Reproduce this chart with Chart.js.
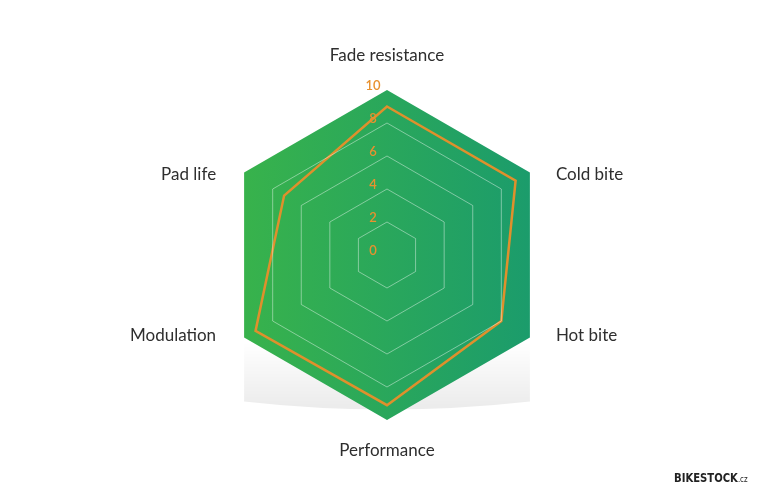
<!DOCTYPE html>
<html>
<head>
<meta charset="utf-8">
<script src="https://cdn.jsdelivr.net/npm/chart.js@4.4.1/dist/chart.umd.min.js"></script>
<style>
  html, body { margin: 0; padding: 0; background: #fff; }
  #wrap { position: relative; width: 768px; height: 500px; }
  #mark {
    position: absolute; right: 20px; bottom: 15px;
    font: bold 13px "Liberation Sans Narrow", "DejaVu Sans Condensed", sans-serif;
    color: #222; transform: scaleX(0.86); transform-origin: right center;
  }
  #mark small { font-size: 9px; font-weight: normal; }
</style>
</head>
<body>
<div id="wrap">
  <canvas id="radar" width="768" height="500"></canvas>
  <div id="mark">BIKESTOCK<small>.cz</small></div>
</div>
<script>
// Данные графика
const categories = ['Fade resistance', 'Cold bite', 'Hot bite', 'Performance', 'Modulation', 'Pad life'];
const ratings = [9, 9, 8, 9.1, 9.2, 7.2];
const tickValues = [0, 2, 4, 6, 8, 10];
const scaleMax = 10;
const fullScale = categories.map(() => scaleMax);

// Тень под шестиугольником
const shadowPlugin = {
  id: 'hexShadow',
  beforeDatasetsDraw(chart) {
    const r = chart.scales.r;
    const c = chart.ctx;
    const right = r.getPointPosition(2, r.drawingArea);
    const left = r.getPointPosition(4, r.drawingArea);
    const top = left.y;
    const g = c.createLinearGradient(0, top + 5, 0, top + 68);
    g.addColorStop(0, 'rgba(0,0,0,0)');
    g.addColorStop(1, 'rgba(0,0,0,0.075)');
    c.save();
    c.beginPath();
    c.moveTo(left.x, top);
    c.lineTo(left.x, top + 64);
    c.quadraticCurveTo(r.xCenter, top + 80, right.x, top + 64);
    c.lineTo(right.x, top);
    c.closePath();
    c.fillStyle = g;
    c.fill();
    c.restore();
  }
};

// Подписи осей и шкалы
const labelsPlugin = {
  id: 'hexLabels',
  afterDraw(chart) {
    const r = chart.scales.r;
    const c = chart.ctx;
    c.save();
    c.textBaseline = 'middle';
    c.font = '17px Lato';
    c.fillStyle = '#2e2e2e';
    categories.forEach((name, i) => {
      const p = r.getPointPosition(i, r.drawingArea);
      if (Math.abs(p.x - r.xCenter) < 1) {
        c.textAlign = 'center';
        c.fillText(name, p.x, p.y < r.yCenter ? p.y - 34 : p.y + 31);
      } else if (p.x > r.xCenter) {
        c.textAlign = 'left';
        c.fillText(name, p.x + 26, p.y + (p.y < r.yCenter ? 2 : -2));
      } else {
        c.textAlign = 'right';
        c.fillText(name, p.x - 28, p.y + (p.y < r.yCenter ? 2 : -2));
      }
    });
    c.font = '600 13px Lato';
    c.fillStyle = '#e8912f';
    c.textAlign = 'center';
    tickValues.forEach(v => {
      const d = r.getDistanceFromCenterForValue(v);
      c.fillText(String(v), r.xCenter - 14, r.yCenter - d - 4);
    });
    c.restore();
  }
};

function hexGradient(context) {
  const chart = context.chart;
  const r = chart.scales.r;
  if (!chart.chartArea || !r) return '#2aa85a';
  const g = chart.ctx.createLinearGradient(r.xCenter - r.drawingArea, 0, r.xCenter + r.drawingArea, 0);
  g.addColorStop(0, '#3ab449');
  g.addColorStop(1, '#199a6e');
  return g;
}

new Chart(document.getElementById('radar'), {
  type: 'radar',
  data: {
    labels: categories,
    datasets: [
      {
        label: 'Rating',
        data: ratings,
        borderColor: '#df902c',
        borderWidth: 2.5,
        borderJoinStyle: 'miter',
        fill: false,
        pointRadius: 0,
        tension: 0,
        order: 0
      },
      {
        label: 'Scale',
        data: fullScale,
        backgroundColor: hexGradient,
        borderWidth: 0,
        fill: true,
        pointRadius: 0,
        order: 1
      }
    ]
  },
  options: {
    responsive: false,
    animation: false,
    devicePixelRatio: 1,
    layout: { padding: { top: 90, bottom: 80, left: 100, right: 94 } },
    plugins: { legend: { display: false }, tooltip: { enabled: false } },
    scales: {
      r: {
        min: 0,
        max: scaleMax,
        afterBuildTicks: (scale) => { scale.ticks = tickValues.map(v => ({ value: v })); },
        ticks: { display: false },
        angleLines: { display: false },
        pointLabels: { display: false },
        grid: {
          z: 1,
          lineWidth: 1,
          color: (ctx) => (ctx.tick && (ctx.tick.value === 0 || ctx.tick.value === scaleMax))
            ? 'rgba(0,0,0,0)' : 'rgba(255,255,255,0.42)'
        }
      }
    }
  },
  plugins: [shadowPlugin, labelsPlugin]
});
</script>
</body>
</html>
